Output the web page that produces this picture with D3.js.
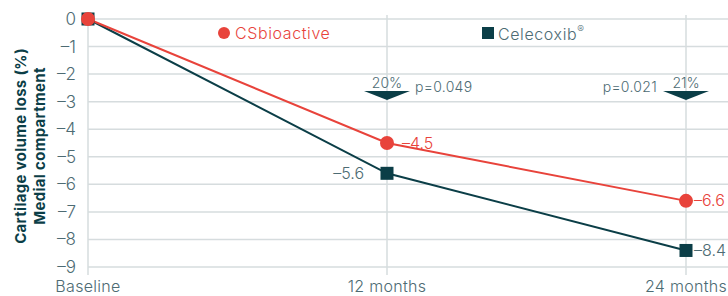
<!DOCTYPE html>
<html>
<head>
<meta charset="utf-8">
<script src="https://cdn.jsdelivr.net/npm/d3@7"></script>
<style>
  body { margin: 0; background: #fff; }
  text { font-family: Inter, "Open Sans", sans-serif; }
</style>
</head>
<body>
<svg id="chart" width="728" height="296"></svg>
<script>
var categories = ['Baseline', '12 months', '24 months'];
var csBioactive = [0, -4.5, -6.6];
var celecoxib = [0, -5.6, -8.4];
var yTicks = [0, -1, -2, -3, -4, -5, -6, -7, -8, -9];
var reductions = [null, '20%', '21%'];
var pValues = [null, 'p=0.049', 'p=0.021'];

var red = '#e8433b', dark = '#0b3e47', grid = '#d6dcde', tickCol = '#4d6b73';

var svg = d3.select('#chart');
var x = d3.scalePoint().domain(categories).range([88, 686]);
var y = d3.scaleLinear().domain([0, -9]).range([19, 267]);
var minus = function(v) { return v === 0 ? '0' : '\u2013' + Math.abs(v); };

// horizontal gridlines
svg.append('g').selectAll('line').data(yTicks).enter().append('line')
  .attr('x1', 88).attr('x2', 728)
  .attr('y1', function(d) { return y(d); }).attr('y2', function(d) { return y(d); })
  .attr('stroke', grid).attr('stroke-width', 1.5);

// vertical lines
svg.append('g').selectAll('line').data(categories).enter().append('line')
  .attr('x1', function(d) { return x(d); }).attr('x2', function(d) { return x(d); })
  .attr('y1', 15).attr('y2', 275)
  .attr('stroke', grid).attr('stroke-width', 1.5);

// y tick labels
svg.append('g').selectAll('text').data(yTicks).enter().append('text')
  .attr('x', 76).attr('y', function(d) { return y(d); })
  .attr('dy', '0.35em').attr('text-anchor', 'end')
  .attr('font-size', 17).attr('font-weight', 300).attr('fill', tickCol)
  .text(minus);

// x labels
svg.append('g').selectAll('text').data(categories).enter().append('text')
  .attr('x', function(d) { return x(d); }).attr('y', 292)
  .attr('text-anchor', 'middle').attr('letter-spacing', 0.3)
  .attr('font-size', 16).attr('font-weight', 300).attr('fill', tickCol)
  .text(function(d) { return d; });

// y title
var yt = svg.append('text')
  .attr('transform', 'translate(26,146) rotate(-90)')
  .attr('text-anchor', 'middle').attr('font-size', 15).attr('font-weight', 700)
  .attr('letter-spacing', 0.3).attr('fill', dark);
yt.append('tspan').attr('x', 0).attr('y', 0).text('Cartilage volume loss (%)');
yt.append('tspan').attr('x', 0).attr('y', 19).text('Medial compartment');

var line = d3.line().x(function(d, i) { return x(categories[i]); }).y(function(d) { return y(d); });

svg.append('path').datum(celecoxib).attr('d', line)
  .attr('fill', 'none').attr('stroke', dark).attr('stroke-width', 2);
svg.append('path').datum(csBioactive).attr('d', line)
  .attr('fill', 'none').attr('stroke', red).attr('stroke-width', 2);

svg.append('g').selectAll('rect').data(celecoxib).enter().append('rect')
  .attr('x', function(d, i) { return x(categories[i]) - 6.5; })
  .attr('y', function(d) { return y(d) - 6.5; })
  .attr('width', 13).attr('height', 13).attr('fill', dark);
svg.append('g').selectAll('circle').data(csBioactive).enter().append('circle')
  .attr('cx', function(d, i) { return x(categories[i]); })
  .attr('cy', function(d) { return y(d); })
  .attr('r', 7).attr('fill', red);

// value labels
function valLabel(v, i, dx, anchor, col) {
  svg.append('text').attr('x', x(categories[i]) + dx).attr('y', y(v))
    .attr('dy', '0.35em').attr('text-anchor', anchor)
    .attr('font-size', 16).attr('font-weight', 300).attr('fill', col).text(minus(v));
}
valLabel(csBioactive[1], 1, 15, 'start', red);
valLabel(celecoxib[1], 1, -23, 'end', tickCol);
valLabel(csBioactive[2], 2, 8, 'start', red);
valLabel(celecoxib[2], 2, 8, 'start', tickCol);

// reduction arrows
[1, 2].forEach(function(i) {
  var cx = x(categories[i]);
  svg.append('path')
    .attr('d', 'M' + (cx - 23) + ',91L' + (cx + 23) + ',91L' + cx + ',100Z')
    .attr('fill', dark);
  svg.append('text').attr('x', cx).attr('y', 88).attr('text-anchor', 'middle')
    .attr('font-size', 14).attr('font-weight', 300).attr('fill', tickCol).text(reductions[i]);
});
svg.append('text').attr('x', x(categories[1]) + 28).attr('y', 92)
  .attr('font-size', 14).attr('font-weight', 300).attr('letter-spacing', 0.3)
  .attr('fill', tickCol).text(pValues[1]);
svg.append('text').attr('x', x(categories[2]) - 29).attr('y', 92).attr('text-anchor', 'end')
  .attr('font-size', 14).attr('font-weight', 300).attr('letter-spacing', 0.3)
  .attr('fill', tickCol).text(pValues[2]);

// legend
svg.append('circle').attr('cx', 224).attr('cy', 33).attr('r', 6).attr('fill', red);
svg.append('text').attr('x', 235).attr('y', 33).attr('dy', '0.35em').attr('letter-spacing', 0.6)
  .attr('font-size', 16).attr('font-weight', 300).attr('fill', red).text('CSbioactive');
svg.append('rect').attr('x', 482).attr('y', 27).attr('width', 12).attr('height', 12).attr('fill', dark);
var lt = svg.append('text').attr('x', 498).attr('y', 34).attr('dy', '0.35em').attr('letter-spacing', 0.6)
  .attr('font-size', 16).attr('font-weight', 300).attr('fill', tickCol);
lt.append('tspan').text('Celecoxib');
lt.append('tspan').attr('font-size', 10).attr('dy', '-0.7em').text('\u00ae');
</script>
</body>
</html>
